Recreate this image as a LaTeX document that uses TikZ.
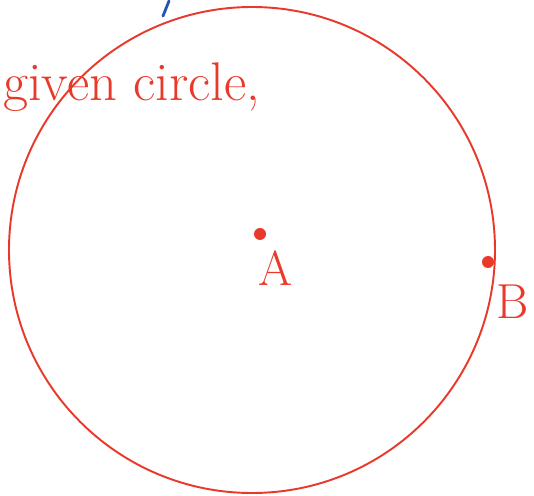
\documentclass[tikz,border=0pt]{standalone}
\definecolor{inkred}{HTML}{E8392A}
\definecolor{inkblue}{HTML}{2455B5}
\tikzset{ink/.style={inkred,font=\fontsize{28}{30}\selectfont}}
\begin{document}
\begin{tikzpicture}[x=.02cm,y=-.02cm]
  \def\R{243}
  \useasboundingbox (0,0) rectangle (534,496);
  \coordinate (O) at (252,250);
  \draw[inkred,line width=1.1pt] (O) circle (\R);
  \draw[inkblue,line width=1.6pt,line cap=round] (169,1) -- (163,16);
  \node[ink,font=\fontsize{31}{33}\selectfont,anchor=base west,inner sep=0pt] (given) at (3,101) {given circle,};
  \coordinate (A) at (260,234);
  \coordinate (B) at (488,262);
  \fill[inkred] (A) circle (6) (B) circle (6);
  \node[ink] (labA) at (276,268) {A};
  \node[ink] (labB) at (513,302) {B};
\end{tikzpicture}
\end{document}
